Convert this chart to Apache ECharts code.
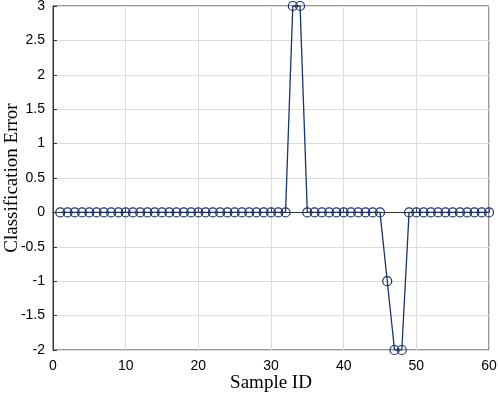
<!DOCTYPE html>
<html>
<head>
<meta charset="utf-8">
<script src="https://cdn.jsdelivr.net/npm/echarts@6/dist/echarts.min.js"></script>
<style>
  html, body { margin: 0; padding: 0; background: #fff; }
  #chart { width: 498px; height: 393px; }
</style>
</head>
<body>
<div id="chart"></div>
<script>
// sample ids 1..60 and classification error per sample
var sampleIds = [];
for (var i = 1; i <= 60; i++) sampleIds.push(i);
var errors = [
  0, 0, 0, 0, 0, 0, 0, 0, 0, 0,
  0, 0, 0, 0, 0, 0, 0, 0, 0, 0,
  0, 0, 0, 0, 0, 0, 0, 0, 0, 0,
  0, 0, 3, 3, 0, 0, 0, 0, 0, 0,
  0, 0, 0, 0, 0, -1, -2, -2, 0, 0,
  0, 0, 0, 0, 0, 0, 0, 0, 0, 0
];

var points = sampleIds.map(function (id, k) { return [id, errors[k]]; });

var chart = echarts.init(document.getElementById('chart'));
var tickFont = { fontFamily: 'Arial, Liberation Sans, sans-serif', fontSize: 14, color: '#000' };

chart.setOption({
  animation: false,
  grid: {
    left: 53, right: 9, top: 6, bottom: 43,
    outerBoundsMode: 'none', containLabel: false,
    show: true, borderColor: '#333', borderWidth: 1
  },
  xAxis: {
    type: 'value', min: 0, max: 60, interval: 10,
    name: 'Sample ID', nameLocation: 'middle', nameGap: 24, nameMoveOverlap: false,
    nameTextStyle: { fontFamily: 'Liberation Serif, Times New Roman, serif', fontSize: 19, color: '#000' },
    axisLine: { lineStyle: { color: '#333' } },
    axisTick: { inside: true, length: 4, lineStyle: { color: '#333' } },
    axisLabel: Object.assign({ margin: 9 }, tickFont),
    splitLine: { show: true, lineStyle: { color: '#dcdcdc' } }
  },
  yAxis: {
    type: 'value', min: -2, max: 3, interval: 0.5,
    name: 'Classification Error', nameLocation: 'middle', nameGap: 31, nameMoveOverlap: false,
    nameTextStyle: { fontFamily: 'Liberation Serif, Times New Roman, serif', fontSize: 19, color: '#000' },
    axisLine: { show: true, lineStyle: { color: '#333' } },
    axisTick: { show: true, inside: true, length: 4, lineStyle: { color: '#333' } },
    axisLabel: Object.assign({ margin: 8 }, tickFont),
    splitLine: { show: true, lineStyle: { color: '#dcdcdc' } }
  },
  series: [{
    type: 'line',
    data: points,
    symbol: 'circle',
    symbolSize: 9,
    showAllSymbol: true,
    lineStyle: { color: '#1a3366', width: 1.3 },
    itemStyle: { color: 'rgba(255,255,255,0)', borderColor: '#1a3366', borderWidth: 1.2 }
  }]
});
</script>
</body>
</html>
